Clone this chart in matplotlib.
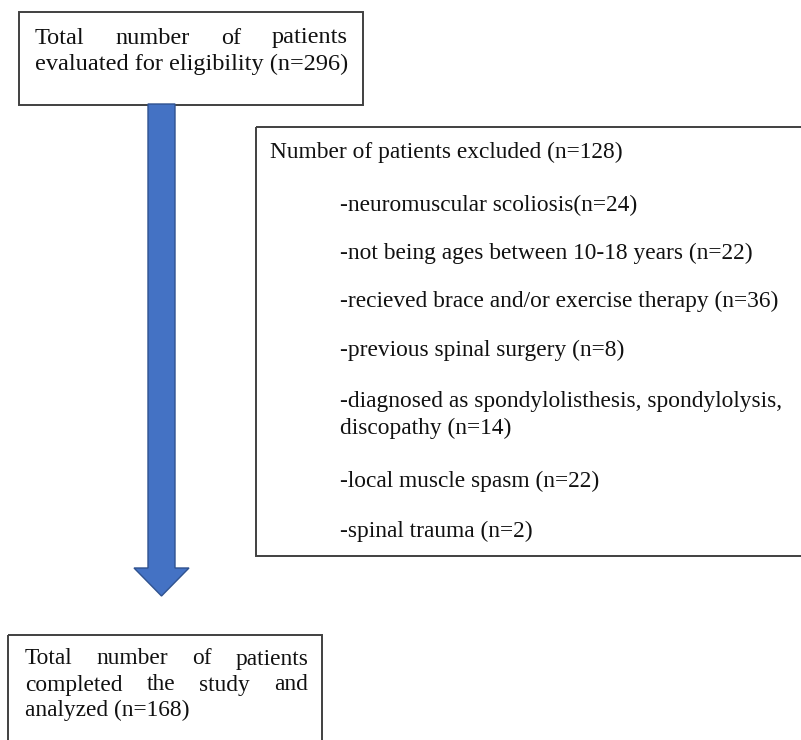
import matplotlib
matplotlib.use("Agg")
import matplotlib.pyplot as plt
from matplotlib.patches import Rectangle, FancyArrow

# ---- data ----
top_lines = ["Total number of patients", "evaluated for eligibility (n=296)"]
excl_header = "Number of patients excluded (n=128)"
excl_items = [
    ["-neuromuscular scoliosis(n=24)"],
    ["-not being ages between 10-18 years (n=22)"],
    ["-recieved brace and/or exercise therapy (n=36)"],
    ["-previous spinal surgery (n=8)"],
    ["-diagnosed as spondylolisthesis, spondylolysis,", "discopathy (n=14)"],
    ["-local muscle spasm (n=22)"],
    ["-spinal trauma (n=2)"],
]
bottom_lines = ["Total number of patients", "completed the study and", "analyzed (n=168)"]

W, H = 801, 740
fig = plt.figure(figsize=(W / 100, H / 100), dpi=100)
ax = fig.add_axes([0, 0, 1, 1])
ax.set_xlim(0, W)
ax.set_ylim(H, 0)
ax.axis("off")

FAM = ["Liberation Serif", "DejaVu Serif"]
FONT = dict(family=FAM, fontsize=16.8, color="#111111")
FONT_TOP = dict(family=FAM, fontsize=17.5, color="#111111")
EDGE = "#404040"

fig.canvas.draw()
renderer = fig.canvas.get_renderer()


def text_width(s, font):
    t = ax.text(0, 0, s, **font)
    bb = t.get_window_extent(renderer=renderer)
    t.remove()
    return bb.width  # pixels == data units (1:1)


def justified(line, x0, x1, y, font):
    words = line.split()
    widths = [text_width(w, font) for w in words]
    gap = (x1 - x0 - sum(widths)) / (len(words) - 1)
    x = x0
    for w, wd in zip(words, widths):
        ax.text(x, y, w, ha="left", va="center", **font)
        x += wd + gap


# top box
ax.add_patch(Rectangle((19, 12), 344, 93, fill=False, edgecolor=EDGE, lw=1.4))
justified(top_lines[0], 35, 348, 38, FONT_TOP)
ax.text(35, 64, top_lines[1], ha="left", va="center", **FONT_TOP)

# arrow
ax.add_patch(FancyArrow(161.5, 104, 0, 492, width=27, head_width=55, head_length=28,
                        length_includes_head=True, facecolor="#4472C4",
                        edgecolor="#2F528F", lw=1.0))

# exclusion box (extends past right edge)
ax.add_patch(Rectangle((256, 127), 600, 429, fill=False, edgecolor=EDGE, lw=1.4))
ax.text(270, 152, excl_header, ha="left", va="center", **FONT)
item_y = [205, 253, 301, 350, 401, 481, 531]
for lines, y in zip(excl_items, item_y):
    for k, s in enumerate(lines):
        ax.text(340, y + 27 * k, s, ha="left", va="center", **FONT)

# bottom box (extends past bottom edge)
ax.add_patch(Rectangle((8, 635), 314, 200, fill=False, edgecolor=EDGE, lw=1.4))
justified(bottom_lines[0], 25, 308, 659, FONT)
justified(bottom_lines[1], 25, 308, 685, FONT)
ax.text(25, 710, bottom_lines[2], ha="left", va="center", **FONT)

fig.savefig("out.png", dpi=100, facecolor="white")
